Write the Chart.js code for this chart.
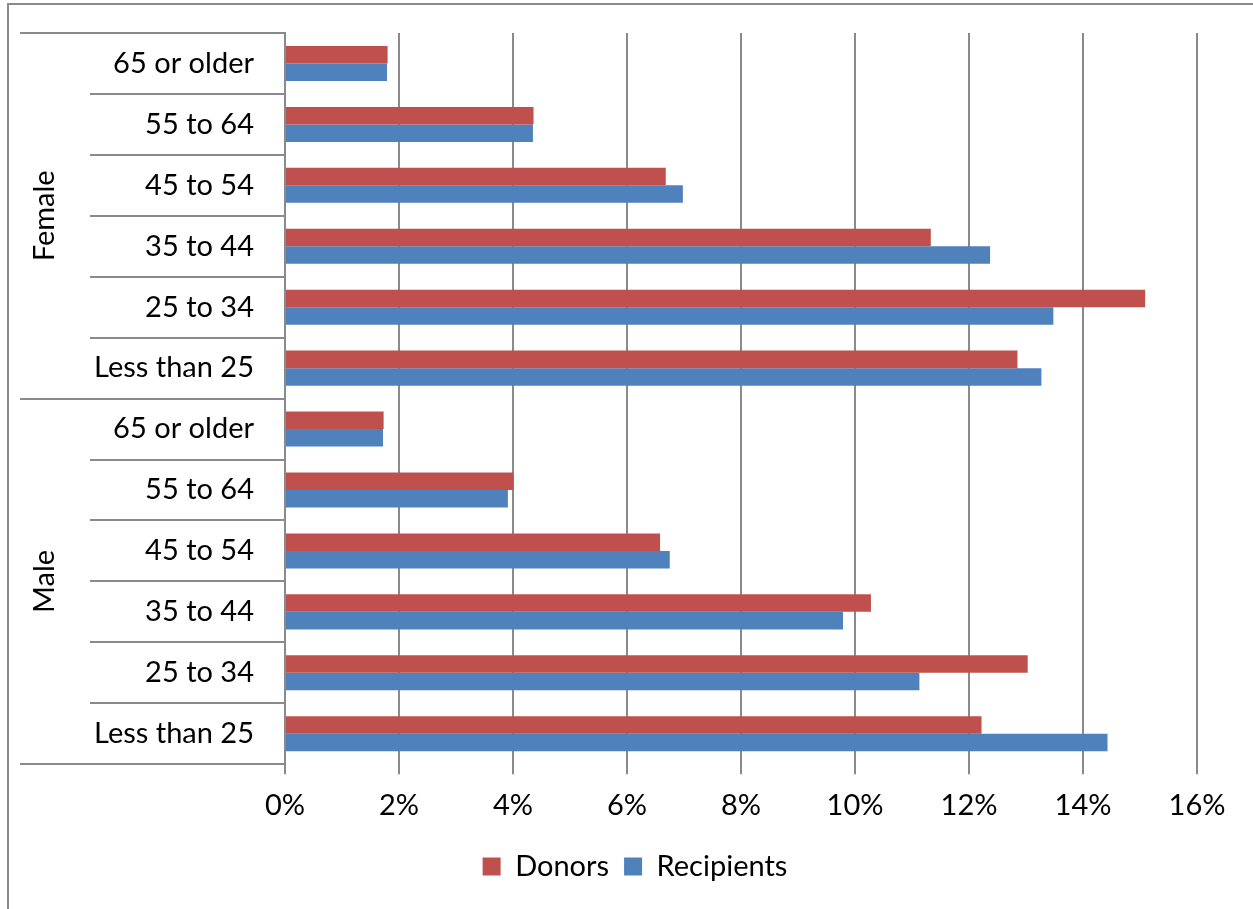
<!DOCTYPE html>
<html>
<head>
<meta charset="utf-8">
<script src="https://cdn.jsdelivr.net/npm/chart.js@4"></script>
<style>
  html, body { margin: 0; padding: 0; background: #fff; overflow: hidden; }
  #frame { position: absolute; left: 7px; top: 3px; width: 1400px; height: 1100px;
           border: 2px solid #8a8a8a; box-sizing: border-box; }
  #wrap { position: absolute; left: 0; top: 0; width: 1253px; height: 909px; }
</style>
</head>
<body>
<div id="frame"></div>
<div id="wrap"><canvas id="barChart"></canvas></div>
<script>
var genders = ['Female', 'Male'];
var ageGroups = ['65 or older', '55 to 64', '45 to 54', '35 to 44', '25 to 34', 'Less than 25'];
var donors = [1.80, 4.36, 6.68, 11.33, 15.09, 12.85,
              1.73, 4.01, 6.58, 10.28, 13.03, 12.22];
var recipients = [1.79, 4.35, 6.98, 12.37, 13.48, 13.27,
                  1.72, 3.91, 6.75, 9.79, 11.13, 14.43];
var xTicks = [0, 2, 4, 6, 8, 10, 12, 14, 16];

var FONT = 'Lato';
var FONT_SIZE = 29;
var lineColor = '#8a8a8a';

// draws the two-level category axis (separators + rotated gender labels)
var groupAxis = {
  id: 'groupAxis',
  afterDraw: function(chart) {
    var y = chart.scales.y;
    var ctx = chart.ctx;
    var n = ageGroups.length;
    var step = y.getPixelForValue(1) - y.getPixelForValue(0);
    ctx.save();
    ctx.strokeStyle = lineColor;
    ctx.lineWidth = 2;
    for (var i = 0; i <= genders.length * n; i++) {
      var py = Math.round(y.getPixelForValue(i) - step / 2);
      var x0 = (i % n === 0) ? y.right - 265 : y.right - 195;
      ctx.beginPath();
      ctx.moveTo(x0, py);
      ctx.lineTo(y.right, py);
      ctx.stroke();
    }
    ctx.fillStyle = '#000';
    ctx.font = FONT_SIZE + 'px ' + FONT;
    ctx.textAlign = 'center';
    ctx.textBaseline = 'middle';
    genders.forEach(function(g, gi) {
      var top = y.getPixelForValue(gi * n);
      var bottom = y.getPixelForValue(gi * n + n - 1);
      ctx.save();
      ctx.translate(y.right - 240, (top + bottom) / 2);
      ctx.rotate(-Math.PI / 2);
      ctx.fillText(g, 0, 0);
      ctx.restore();
    });
    ctx.restore();
  }
};

var labels = [];
genders.forEach(function() { labels = labels.concat(ageGroups); });

var ctx = document.getElementById('barChart');
new Chart(ctx, {
  type: 'bar',
  data: {
    labels: labels,
    datasets: [
      { label: 'Donors', backgroundColor: '#C0504D', data: donors },
      { label: 'Recipients', backgroundColor: '#4F81BD', data: recipients }
    ]
  },
  options: {
    indexAxis: 'y',
    responsive: true,
    maintainAspectRatio: false,
    animation: false,
    categoryPercentage: 0.575,
    barPercentage: 1.0,
    layout: { padding: { top: 33, right: 56, left: 73, bottom: 18 } },
    scales: {
      x: {
        min: 0,
        max: 16,
        afterBuildTicks: function(scale) {
          scale.ticks = xTicks.map(function(v) { return { value: v }; });
        },
        grid: { color: lineColor, lineWidth: 2, tickLength: 10, drawTicks: true },
        border: { display: false },
        ticks: {
          color: '#000',
          padding: 14,
          font: { family: FONT, size: FONT_SIZE },
          callback: function(v) { return v + '%'; }
        }
      },
      y: {
        afterFit: function(scale) {
          scale.width = 212;
          scale.paddingTop = 0;
          scale.paddingBottom = 0;
        },
        grid: { display: false },
        border: { display: true, color: lineColor, width: 2 },
        ticks: {
          color: '#000',
          padding: 23,
          autoSkip: false,
          font: { family: FONT, size: FONT_SIZE }
        }
      }
    },
    plugins: {
      legend: {
        display: true,
        position: 'bottom',
        labels: {
          boxWidth: 18,
          boxHeight: 18,
          padding: 15,
          color: '#000',
          font: { family: FONT, size: FONT_SIZE }
        }
      },
      tooltip: { enabled: false }
    }
  },
  plugins: [groupAxis]
});
</script>
</body>
</html>
